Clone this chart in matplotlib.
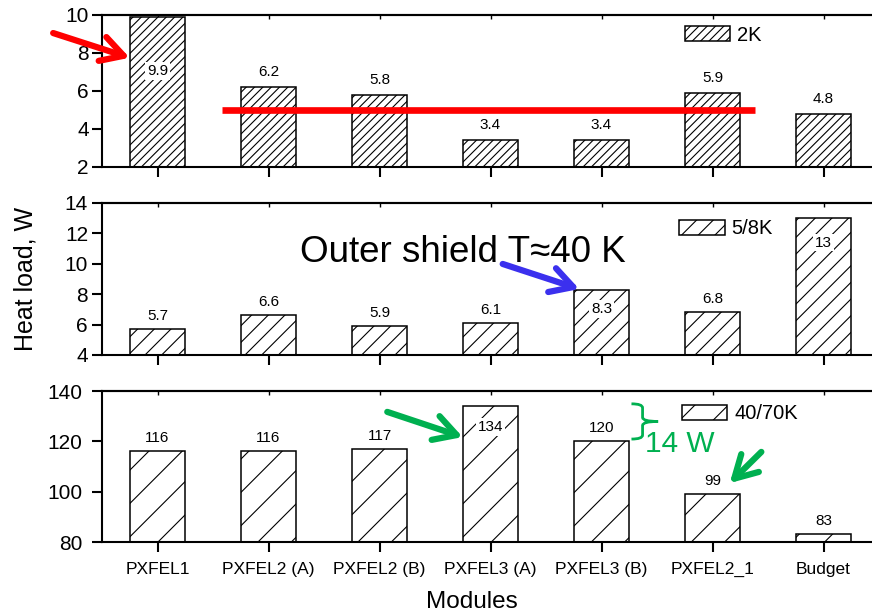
import matplotlib
matplotlib.use("Agg")
import matplotlib.pyplot as plt
from matplotlib.path import Path
from matplotlib.patches import PathPatch
import numpy as np

plt.rcParams["font.family"] = ["Liberation Sans", "DejaVu Sans"]
plt.rcParams["hatch.linewidth"] = 0.8

# ---- data -------------------------------------------------------------
modules = ["PXFEL1", "PXFEL2 (A)", "PXFEL2 (B)", "PXFEL3 (A)",
           "PXFEL3 (B)", "PXFEL2_1", "Budget"]
load_2k = [9.9, 6.2, 5.8, 3.4, 3.4, 5.9, 4.8]
load_5_8k = [5.7, 6.6, 5.9, 6.1, 8.3, 6.8, 13]
load_40_70k = [116, 116, 117, 134, 120, 99, 83]
series_names = ["2K", "5/8K", "40/70K"]
y_limits = [(2, 10), (4, 14), (80, 140)]
y_ticks = [[2, 4, 6, 8, 10], [4, 6, 8, 10, 12, 14], [80, 100, 120, 140]]
target_2k = 5.0
shield_note = "Outer shield T\u224840 K"
delta_note = "14 W"

series = [load_2k, load_5_8k, load_40_70k]

# ---- layout / style ---------------------------------------------------
W, H = 872, 615
fig = plt.figure(figsize=(W / 100, H / 100), dpi=100)


def px_box(left, top, right, bottom):
    return [left / W, 1 - bottom / H, (right - left) / W, (bottom - top) / H]


panel_boxes = [px_box(102, 15, 879, 167),
               px_box(102, 203, 879, 355),
               px_box(102, 391, 879, 542)]
hatches = ["////", "//", "/"]
above_offset = [11, 9.5, 9.5]            # points above bar top
inside_offset = {(0, 0): -39, (1, 4): -14, (1, 6): -17.5, (2, 3): -15}
legend_anchor = [(0.750, 0.868), (0.743, 0.829), (0.746, 0.848)]
ytick_pad = [2, 2.5, 6.5]

red = "#FF0000"
blue = "#3B30EE"
green = "#00B050"

x = np.arange(len(modules))
axes = []
for i, vals in enumerate(series):
    ax = fig.add_axes(panel_boxes[i])
    axes.append(ax)
    bars = ax.bar(x, vals, width=0.5, facecolor="white", edgecolor="black",
                  linewidth=1.1, hatch=hatches[i], zorder=2)
    ax.set_xlim(-0.5, len(modules) - 0.5)
    ax.set_ylim(*y_limits[i])
    ax.set_yticks(y_ticks[i])
    ax.set_xticks(x)
    if i == 2:
        ax.set_xticklabels(modules, fontsize=12.5)
    else:
        ax.set_xticklabels([])
    for s in ax.spines.values():
        s.set_linewidth(1.5)
    ax.tick_params(axis="x", direction="out", length=7.5, width=1.5, pad=7)
    ax.tick_params(axis="y", direction="out", length=7.5, width=1.5,
                   labelsize=15, pad=ytick_pad[i])
    top = ax.secondary_xaxis("top")
    top.set_xticks(x)
    top.tick_params(direction="in", length=3, width=1, labeltop=False)
    top.spines["top"].set_linewidth(1.5)

    for j, v in enumerate(vals):
        off = inside_offset.get((i, j))
        if off is None:
            ax.annotate(f"{v:g}", (x[j], v), xytext=(0, above_offset[i]),
                        textcoords="offset points", ha="center", va="center",
                        fontsize=11, zorder=4)
        else:
            ax.annotate(f"{v:g}", (x[j], v), xytext=(0, off),
                        textcoords="offset points", ha="center", va="center",
                        fontsize=11, zorder=4,
                        bbox=dict(boxstyle="square,pad=0.12", fc="white",
                                  ec="none"))

    ax.legend([bars], [series_names[i]], loc="center left",
              bbox_to_anchor=legend_anchor[i], frameon=False, fontsize=14.5,
              handlelength=2.25, handleheight=0.8, handletextpad=0.35,
              borderpad=0, borderaxespad=0)

ax1, ax2, ax3 = axes

# 2K budget line
ax1.hlines(target_2k, 0.58, 5.38, color=red, linewidth=4.8, zorder=5)


def arrow(ax, tail, tip, color):
    ax.annotate("", xy=tip, xytext=tail, annotation_clip=False,
                arrowprops=dict(arrowstyle="->,head_length=0.8,head_width=0.45",
                                lw=4.5, color=color, mutation_scale=20,
                                shrinkA=0, shrinkB=0,
                                capstyle="round", joinstyle="round"),
                zorder=6)


arrow(ax1, (-0.94, 9.05), (-0.25, 7.75), red)
arrow(ax2, (3.11, 9.99), (3.80, 8.34), blue)
arrow(ax3, (2.07, 131.7), (2.75, 121.7), green)
arrow(ax3, (5.44, 115.8), (5.155, 103.4), green)

# outer shield note
ax2.text(1.284, 10.14, shield_note, fontsize=26.5, ha="left", va="baseline",
         zorder=6)

# brace showing the 134 vs 120 difference
btop = load_40_70k[3] + 0.9
bbot = load_40_70k[4] + 0.9
bmid = (btop + bbot) / 2
xl, xm, xt = 4.27, 4.37, 4.51
r = 1.6
verts = [(xl, btop), (xm, btop), (xm, btop - r),
         (xm, bmid + r), (xm, bmid), (xt, bmid),
         (xm, bmid), (xm, bmid - r),
         (xm, bbot + r), (xm, bbot), (xl, bbot)]
codes = [Path.MOVETO, Path.CURVE3, Path.CURVE3,
         Path.LINETO, Path.CURVE3, Path.CURVE3,
         Path.CURVE3, Path.CURVE3,
         Path.LINETO, Path.CURVE3, Path.CURVE3]
ax3.add_patch(PathPatch(Path(verts, codes), fill=False, edgecolor=green,
                        linewidth=2.0, clip_on=False, zorder=6))
ax3.text(4.39, 115.8, delta_note, color=green, fontsize=21.5, ha="left",
         va="baseline", zorder=6)

# axis titles
fig.text(32 / W, 1 - 279 / H, "Heat load, W", rotation=90,
         rotation_mode="anchor", ha="center", va="baseline", fontsize=18)
fig.text(471.5 / W, 1 - 608.3 / H, "Modules", ha="center", va="baseline",
         fontsize=17.5)

fig.savefig("out.png", dpi=100)
